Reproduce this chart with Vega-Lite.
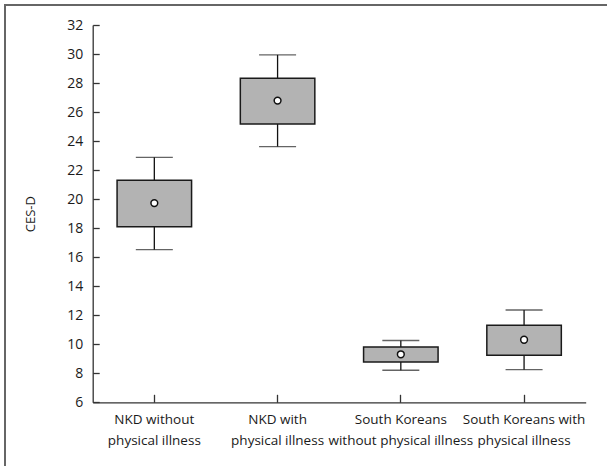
{
  "$schema": "https://vega.github.io/schema/vega-lite/v6.json",
  "autosize": "none",
  "padding": {"left": 5, "top": 5, "right": 0, "bottom": 0},
  "width": 620,
  "height": 480,
  "background": "white",
  "config": {
    "view": {"stroke": "#666666", "strokeWidth": 2},
    "font": "Open Sans",
    "axis": {"labelFont": "Open Sans", "titleFont": "Open Sans", "labelColor": "#1a1a1a", "titleColor": "#1a1a1a", "domainColor": "#333333", "tickColor": "#333333", "grid": false}
  },
  "data": {
    "values": [
      {"group": "NKD without\nphysical illness", "wlo": 16.52, "q1": 18.10, "mean": 19.73, "q3": 21.30, "whi": 22.88},
      {"group": "NKD with\nphysical illness", "wlo": 23.62, "q1": 25.18, "mean": 26.79, "q3": 28.33, "whi": 29.94},
      {"group": "South Koreans\nwithout physical illness", "wlo": 8.21, "q1": 8.78, "mean": 9.31, "q3": 9.81, "whi": 10.26},
      {"group": "South Koreans with\nphysical illness", "wlo": 8.25, "q1": 9.24, "mean": 10.31, "q3": 11.31, "whi": 12.36}
    ]
  },
  "encoding": {
    "x": {
      "field": "group", "type": "nominal", "sort": null,
      "scale": {"range": [87.7, 580.7], "paddingInner": 0, "paddingOuter": 0},
      "axis": {"title": null, "labelAngle": 0, "offset": -82.7, "tickSize": -8, "domainWidth": 1.3, "tickWidth": 1.3, "labelPadding": 18, "labelFontSize": 13.5, "labelLineHeight": 21.5, "labelOverlap": false, "labelExpr": "split(datum.label, '\\n')", "labelBaseline": "top"}
    }
  },
  "layer": [
    {
      "mark": {"type": "rule", "color": "#111111", "strokeWidth": 1.3},
      "encoding": {
        "y": {"field": "wlo", "type": "quantitative", "scale": {"domain": [6, 32], "range": [397.3, 20], "nice": false, "zero": false},
          "axis": {"title": "CES-D", "values": [6, 8, 10, 12, 14, 16, 18, 20, 22, 24, 26, 28, 30, 32], "labelOverlap": false, "labelFlush": false, "offset": -87.7, "tickSize": -6.5, "domainWidth": 1.3, "tickWidth": 1.3, "labelPadding": 16.5, "labelFontSize": 14, "titleFontSize": 13, "titleFontWeight": "normal", "titleX": -62, "titleY": 208.6, "titleAngle": -90, "titleAlign": "center", "titleBaseline": "middle"}},
        "y2": {"field": "whi"}
      }
    },
    {
      "mark": {"type": "tick", "color": "#222222", "size": 37, "thickness": 1.4},
      "encoding": {"y": {"field": "wlo", "type": "quantitative",
          "axis": {"title": "CES-D", "values": [6, 8, 10, 12, 14, 16, 18, 20, 22, 24, 26, 28, 30, 32], "labelOverlap": false, "labelFlush": false, "offset": -87.7, "tickSize": -6.5, "domainWidth": 1.3, "tickWidth": 1.3, "labelPadding": 16.5, "labelFontSize": 14, "titleFontSize": 13, "titleFontWeight": "normal", "titleX": -62, "titleY": 208.6, "titleAngle": -90, "titleAlign": "center", "titleBaseline": "middle"}}}
    },
    {
      "mark": {"type": "tick", "color": "#222222", "size": 37, "thickness": 1.4},
      "encoding": {"y": {"field": "whi", "type": "quantitative",
          "axis": {"title": "CES-D", "values": [6, 8, 10, 12, 14, 16, 18, 20, 22, 24, 26, 28, 30, 32], "labelOverlap": false, "labelFlush": false, "offset": -87.7, "tickSize": -6.5, "domainWidth": 1.3, "tickWidth": 1.3, "labelPadding": 16.5, "labelFontSize": 14, "titleFontSize": 13, "titleFontWeight": "normal", "titleX": -62, "titleY": 208.6, "titleAngle": -90, "titleAlign": "center", "titleBaseline": "middle"}}}
    },
    {
      "mark": {"type": "bar", "fill": "#b3b3b3", "stroke": "#1a1a1a", "strokeWidth": 1.5, "size": 74.5},
      "encoding": {"y": {"field": "q1", "type": "quantitative",
          "axis": {"title": "CES-D", "values": [6, 8, 10, 12, 14, 16, 18, 20, 22, 24, 26, 28, 30, 32], "labelOverlap": false, "labelFlush": false, "offset": -87.7, "tickSize": -6.5, "domainWidth": 1.3, "tickWidth": 1.3, "labelPadding": 16.5, "labelFontSize": 14, "titleFontSize": 13, "titleFontWeight": "normal", "titleX": -62, "titleY": 208.6, "titleAngle": -90, "titleAlign": "center", "titleBaseline": "middle"}}, "y2": {"field": "q3"}}
    },
    {
      "mark": {"type": "point", "filled": false, "fill": "white", "fillOpacity": 1, "stroke": "#111111", "strokeWidth": 1.5, "size": 46, "opacity": 1},
      "encoding": {"y": {"field": "mean", "type": "quantitative",
          "axis": {"title": "CES-D", "values": [6, 8, 10, 12, 14, 16, 18, 20, 22, 24, 26, 28, 30, 32], "labelOverlap": false, "labelFlush": false, "offset": -87.7, "tickSize": -6.5, "domainWidth": 1.3, "tickWidth": 1.3, "labelPadding": 16.5, "labelFontSize": 14, "titleFontSize": 13, "titleFontWeight": "normal", "titleX": -62, "titleY": 208.6, "titleAngle": -90, "titleAlign": "center", "titleBaseline": "middle"}}}
    }
  ]
}
